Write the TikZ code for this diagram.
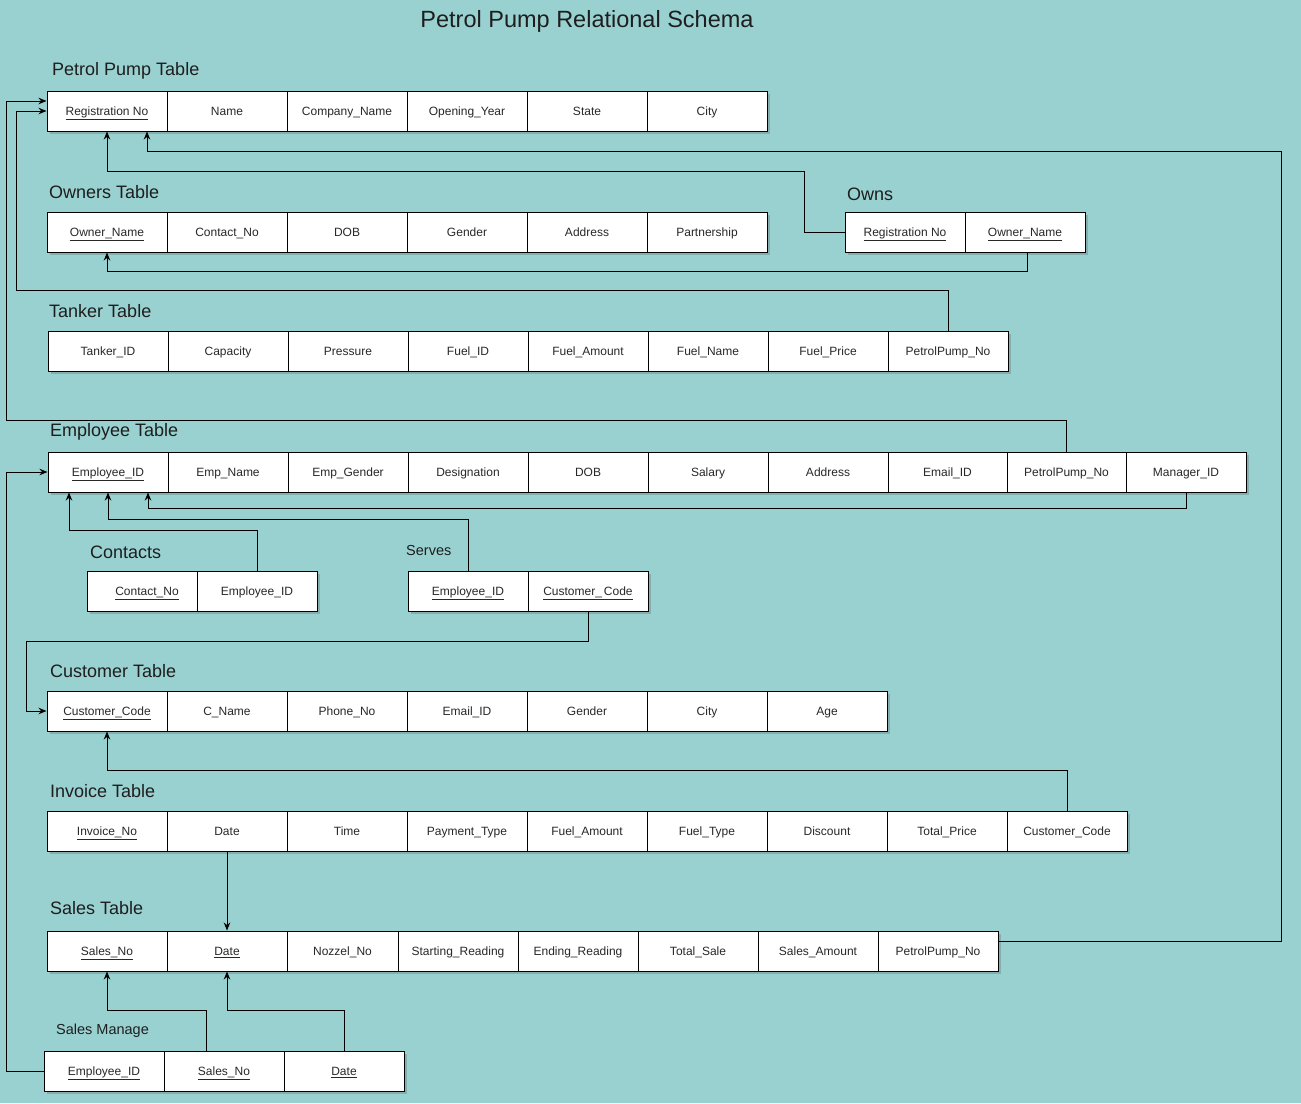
\documentclass[tikz,border=0pt]{standalone}
\usepackage{fontspec}
\setmainfont{Liberation Sans}
\usetikzlibrary{arrows.meta,shadows}
\definecolor{bg}{RGB}{153,209,209}
\definecolor{txt}{RGB}{40,40,40}
\definecolor{ttl}{RGB}{30,30,30}
\newcommand{\ul}[1]{\underline{#1}}
\tikzset{
  cell/.style={draw=black, line width=1pt, fill=white, minimum width=120pt, minimum height=40pt,
    inner sep=0pt, text height=10pt, text depth=1pt, font=\fontsize{12}{14}\selectfont, text=txt,
    drop shadow={shadow xshift=2.5pt, shadow yshift=-2.5pt, opacity=0.25, fill=black!70}},
  tabtitle/.style={anchor=west, inner sep=0pt, font=\fontsize{18}{20}\selectfont, text=ttl},
  smalltitle/.style={anchor=west, inner sep=0pt, font=\fontsize{14.5}{16}\selectfont, text=ttl},
  conn/.style={draw=black, line width=1pt},
  arr/.style={conn, -{Stealth[length=8pt,width=6.5pt]}}
}
\begin{document}
\begin{tikzpicture}[x=1pt,y=-1pt]
\useasboundingbox (0,0) rectangle (1301,1103);
\fill[bg] (0,0) rectangle (1301,1103);

\node[anchor=center, inner sep=0pt, font=\fontsize{23.5}{26}\selectfont, text=ttl] (title) at (587,21) {Petrol Pump Relational Schema};

% Petrol Pump Table
\node[tabtitle] (ppT) at (52,71) {Petrol Pump Table};
\node[cell] (pp1) at (107,111) {\ul{Registration No}};
\node[cell] (pp2) at (227,111) {Name};
\node[cell] (pp3) at (347,111) {Company\_Name};
\node[cell] (pp4) at (467,111) {Opening\_Year};
\node[cell] (pp5) at (587,111) {State};
\node[cell] (pp6) at (707,111) {City};

% Owners Table
\node[tabtitle] (oT) at (49,192) {Owners Table};
\node[cell] (o1) at (107,232) {\ul{Owner\_Name}};
\node[cell] (o2) at (227,232) {Contact\_No};
\node[cell] (o3) at (347,232) {DOB};
\node[cell] (o4) at (467,232) {Gender};
\node[cell] (o5) at (587,232) {Address};
\node[cell] (o6) at (707,232) {Partnership};

% Owns
\node[tabtitle] (owT) at (847,194) {Owns};
\node[cell] (ow1) at (905,232) {\ul{Registration No}};
\node[cell] (ow2) at (1025,232) {\ul{Owner\_Name}};

% Tanker Table
\node[tabtitle] (tT) at (49,311) {Tanker Table};
\node[cell] (t1) at (108,351) {Tanker\_ID};
\node[cell] (t2) at (228,351) {Capacity};
\node[cell] (t3) at (348,351) {Pressure};
\node[cell] (t4) at (468,351) {Fuel\_ID};
\node[cell] (t5) at (588,351) {Fuel\_Amount};
\node[cell] (t6) at (708,351) {Fuel\_Name};
\node[cell] (t7) at (828,351) {Fuel\_Price};
\node[cell] (t8) at (948,351) {PetrolPump\_No};

% Employee Table
\node[tabtitle] (eT) at (50,432) {Employee Table};
\node[cell] (e1) at (108,472) {\ul{Employee\_ID}};
\node[cell] (e2) at (228,472) {Emp\_Name};
\node[cell] (e3) at (348,472) {Emp\_Gender};
\node[cell] (e4) at (468,472) {Designation};
\node[cell] (e5) at (588,472) {DOB};
\node[cell] (e6) at (708,472) {Salary};
\node[cell] (e7) at (828,472) {Address};
\node[cell, minimum width=119pt] (e8) at (947.5,472) {Email\_ID};
\node[cell, minimum width=119pt] (e9) at (1066.5,472) {PetrolPump\_No};
\node[cell, minimum width=120pt] (e10) at (1186,472) {Manager\_ID};

% Contacts
\node[tabtitle] (cT) at (90,552) {Contacts};
\node[cell, minimum width=110pt] (c1) at (142,591) {\hspace*{10pt}\ul{Contact\_No}};
\node[cell] (c2) at (257,591) {Employee\_ID};

% Serves
\node[smalltitle] (svT) at (406,551) {Serves};
\node[cell] (sv1) at (468,591) {\ul{Employee\_ID}};
\node[cell] (sv2) at (588,591) {\ul{Customer\_\,Code}};

% Customer Table
\node[tabtitle] (cuT) at (50,671) {Customer Table};
\node[cell] (cu1) at (107,711) {\ul{Customer\_Code}};
\node[cell] (cu2) at (227,711) {C\_Name};
\node[cell] (cu3) at (347,711) {Phone\_No};
\node[cell] (cu4) at (467,711) {Email\_ID};
\node[cell] (cu5) at (587,711) {Gender};
\node[cell] (cu6) at (707,711) {City};
\node[cell] (cu7) at (827,711) {Age};

% Invoice Table
\node[tabtitle] (iT) at (50,791) {Invoice Table};
\node[cell] (i1) at (107,831) {\ul{Invoice\_No}};
\node[cell] (i2) at (227,831) {Date};
\node[cell] (i3) at (347,831) {Time};
\node[cell] (i4) at (467,831) {Payment\_Type};
\node[cell] (i5) at (587,831) {Fuel\_Amount};
\node[cell] (i6) at (707,831) {Fuel\_Type};
\node[cell] (i7) at (827,831) {Discount};
\node[cell] (i8) at (947,831) {Total\_Price};
\node[cell] (i9) at (1067,831) {Customer\_Code};

% Sales Table
\node[tabtitle] (sT) at (50,908) {Sales Table};
\node[cell] (s1) at (107,951) {\ul{Sales\_No}};
\node[cell] (s2) at (227,951) {\ul{Date}};
\node[cell, minimum width=111pt] (s3) at (342.5,951) {Nozzel\_No};
\node[cell] (s4) at (458,951) {Starting\_Reading};
\node[cell] (s5) at (578,951) {Ending\_Reading};
\node[cell] (s6) at (698,951) {Total\_Sale};
\node[cell] (s7) at (818,951) {Sales\_Amount};
\node[cell] (s8) at (938,951) {PetrolPump\_No};

% Sales Manage
\node[smalltitle] (smT) at (56,1031) {Sales Manage};
\node[cell] (sm1) at (104,1071) {\ul{Employee\_ID}};
\node[cell] (sm2) at (224,1071) {\ul{Sales\_No}};
\node[cell] (sm3) at (344,1071) {\ul{Date}};

% Connectors
\draw[arr] (ow1.west) -- ++(-40,0) -- ++(0,-61) -| (pp1.south);
\draw[arr] (ow2.south) ++(2,0) -- ++(0,19) -| (o1.south);
\draw[arr] ([yshift=10pt]s8.east) -| (1281,151) -| ([xshift=40pt]pp1.south);
\draw[arr] (t8.north) -- ++(0,-40) -| ([xshift=-30pt]pp1.west) -- (pp1.west);
\draw[arr] (e9.north) -- ++(0,-31) -| ([xshift=-40pt,yshift=10pt]pp1.west) -- ([yshift=10pt]pp1.west);
\draw[arr] (e10.south) -- ++(0,16) -| ([xshift=40pt]e1.south);
\draw[arr] (c2.north) -- ++(0,-40) -| ([xshift=-39pt]e1.south);
\draw[arr] (sv1.north) -- ++(0,-51) -| (e1.south);
\draw[arr] (sv2.south) -- ++(0,30) -| ([xshift=-20pt]cu1.west) -- (cu1.west);
\draw[arr] (i9.north) -- ++(0,-40) -| (cu1.south);
\draw[arr] (i2.south) -- (s2.north);
\draw[arr] ([xshift=-18pt]sm2.north) -- ++(0,-40) -| (s1.south);
\draw[arr] (sm3.north) -- ++(0,-40) -| (s2.south);
\draw[arr] (sm1.west) -- ++(-37,0) |- (e1.west);
\end{tikzpicture}
\end{document}
